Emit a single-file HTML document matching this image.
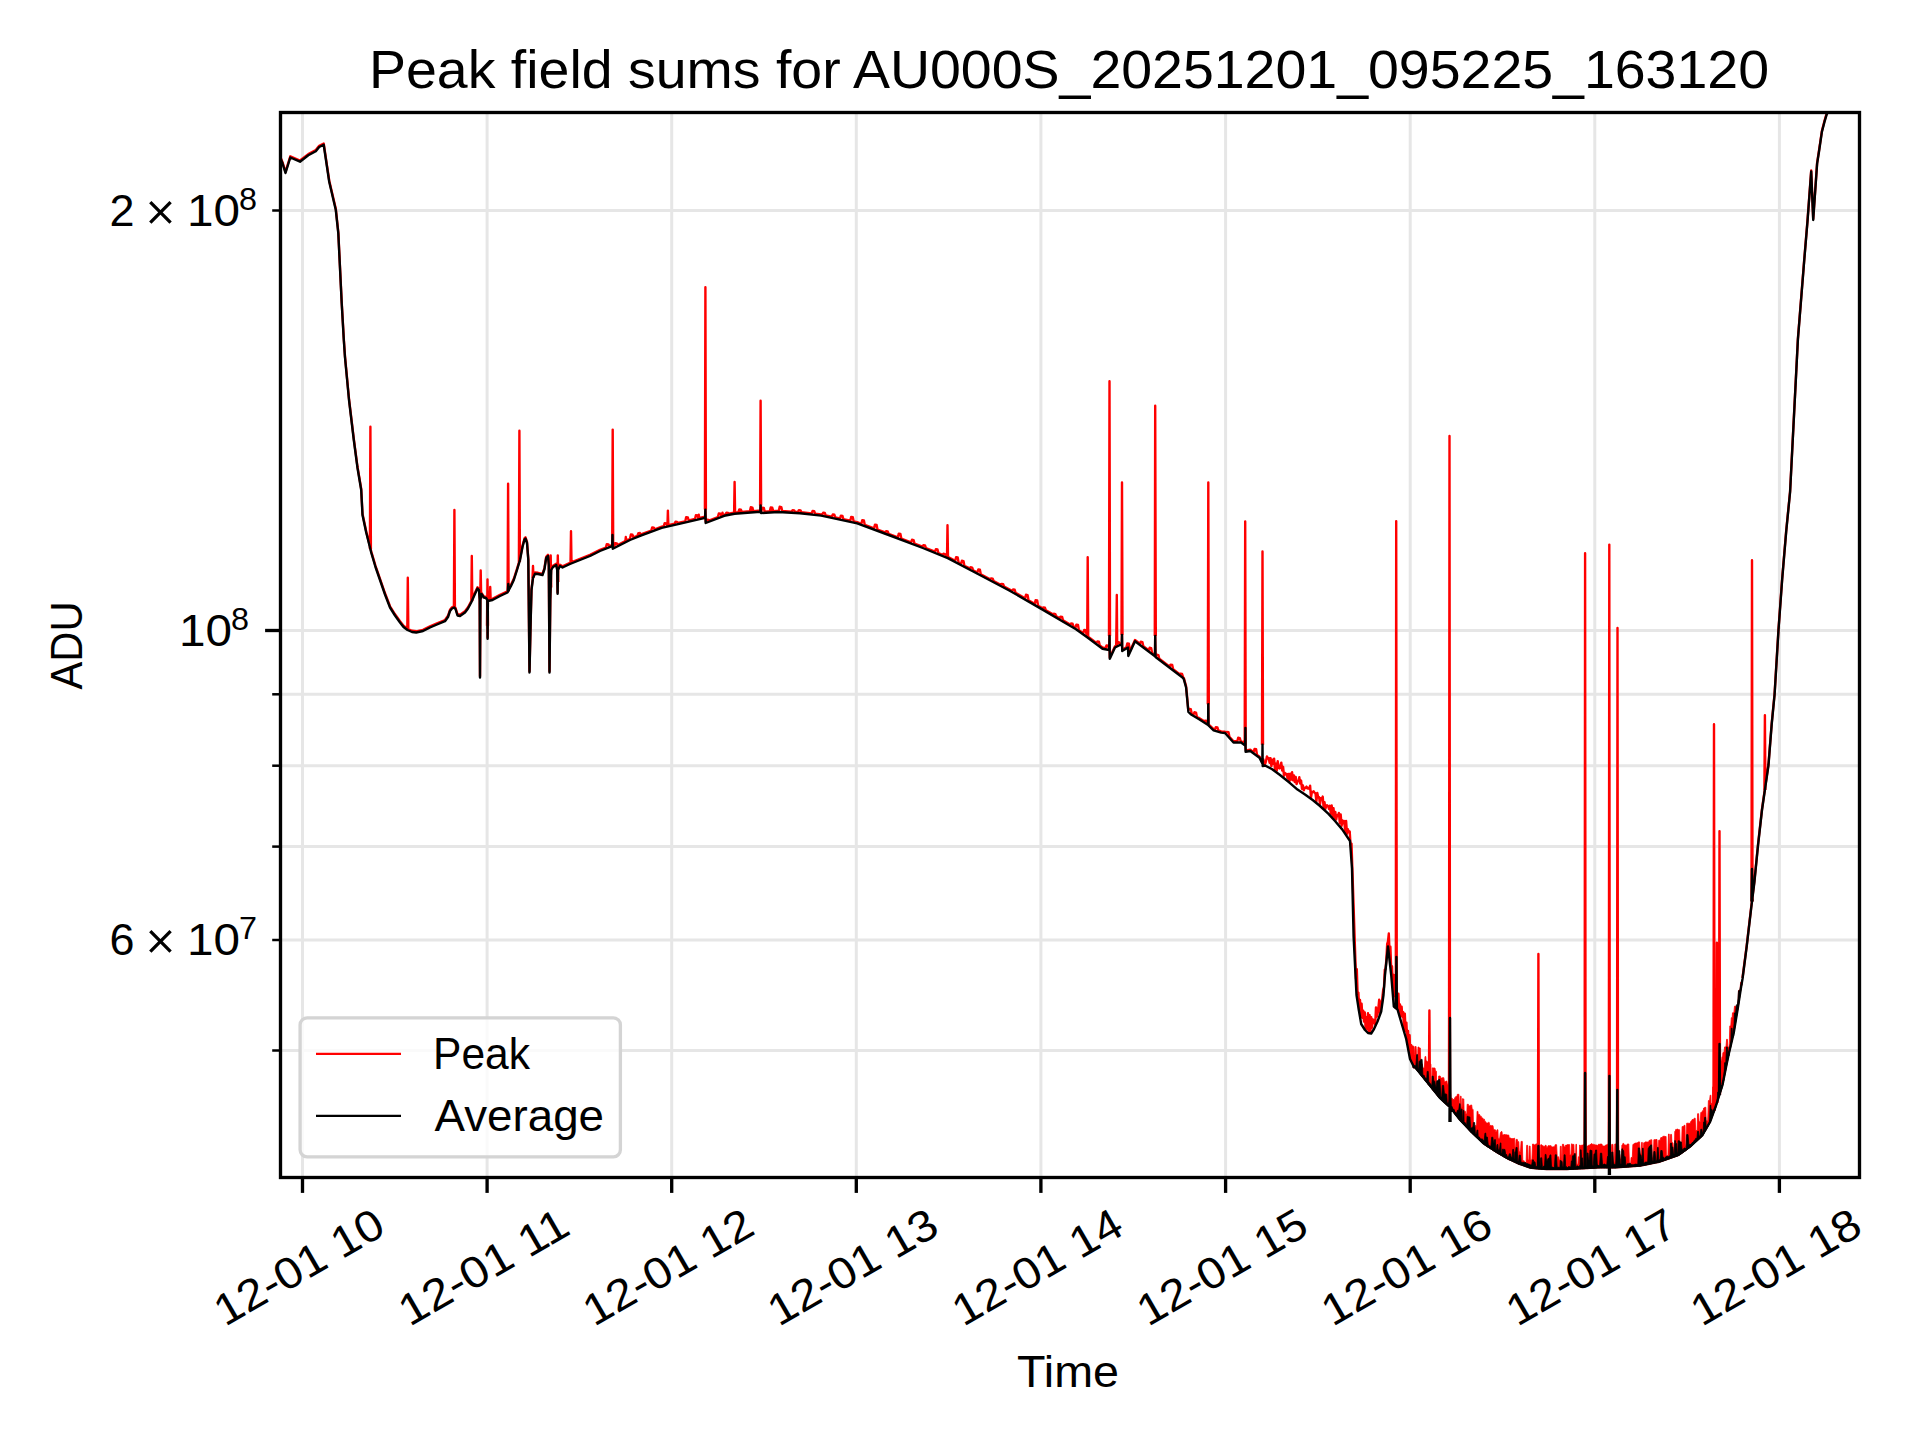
<!DOCTYPE html>
<html><head><meta charset="utf-8"><style>html,body{margin:0;padding:0;background:#fff;width:1920px;height:1440px;overflow:hidden}svg{display:block}</style></head>
<body><svg width="1920" height="1440" viewBox="0 0 1920 1440"><defs><clipPath id="ax"><rect x="280.5" y="112.5" width="1579.0" height="1065.0"/></clipPath></defs><rect x="0" y="0" width="1920" height="1440" fill="#fff"/><line x1="302.5" y1="112.5" x2="302.5" y2="1177.5" stroke="#e6e6e6" stroke-width="3.0"/><line x1="487.1" y1="112.5" x2="487.1" y2="1177.5" stroke="#e6e6e6" stroke-width="3.0"/><line x1="671.7" y1="112.5" x2="671.7" y2="1177.5" stroke="#e6e6e6" stroke-width="3.0"/><line x1="856.3" y1="112.5" x2="856.3" y2="1177.5" stroke="#e6e6e6" stroke-width="3.0"/><line x1="1040.9" y1="112.5" x2="1040.9" y2="1177.5" stroke="#e6e6e6" stroke-width="3.0"/><line x1="1225.6" y1="112.5" x2="1225.6" y2="1177.5" stroke="#e6e6e6" stroke-width="3.0"/><line x1="1410.2" y1="112.5" x2="1410.2" y2="1177.5" stroke="#e6e6e6" stroke-width="3.0"/><line x1="1594.8" y1="112.5" x2="1594.8" y2="1177.5" stroke="#e6e6e6" stroke-width="3.0"/><line x1="1779.4" y1="112.5" x2="1779.4" y2="1177.5" stroke="#e6e6e6" stroke-width="3.0"/><line x1="280.5" y1="630.5" x2="1859.5" y2="630.5" stroke="#e6e6e6" stroke-width="3.0"/><line x1="280.5" y1="1050.5" x2="1859.5" y2="1050.5" stroke="#e6e6e6" stroke-width="3.0"/><line x1="280.5" y1="940.0" x2="1859.5" y2="940.0" stroke="#e6e6e6" stroke-width="3.0"/><line x1="280.5" y1="846.6" x2="1859.5" y2="846.6" stroke="#e6e6e6" stroke-width="3.0"/><line x1="280.5" y1="765.7" x2="1859.5" y2="765.7" stroke="#e6e6e6" stroke-width="3.0"/><line x1="280.5" y1="694.3" x2="1859.5" y2="694.3" stroke="#e6e6e6" stroke-width="3.0"/><line x1="280.5" y1="210.5" x2="1859.5" y2="210.5" stroke="#e6e6e6" stroke-width="3.0"/><g clip-path="url(#ax)" fill="none" stroke-linejoin="round" stroke-linecap="butt"><path d="M280.8,158.0 L282.5,162.1 L285.5,171.8 L290.3,156.3 L300.0,160.5 L308.3,154.1 L315.8,150.1 L319.2,145.8 L323.7,143.5 L329.2,180.5 L335.8,208.8 L338.3,232.1 L341.7,302.1 L343.8,338.8 L345.0,356.3 L349.0,398.8 L353.8,438.8 L357.5,466.8 L361.2,488.8 L362.5,513.8 L366.2,531.3 L371.2,551.3 L375.5,565.8 L380.0,578.8 L385.0,593.3 L390.0,606.3 L395.0,614.3 L400.0,621.3 L403.5,625.8 L407.5,628.8 L412.0,630.8 L416.2,631.3 L423.0,629.8 L430.0,626.3 L437.0,623.3 L445.0,620.0 L448.0,615.8 L450.0,609.8 L452.0,607.3 L454.2,606.3 L455.5,607.8 L457.5,614.3 L460.0,614.8 L465.0,611.3 L468.0,607.3 L471.2,601.3 L474.5,593.8 L477.5,587.3 L479.0,588.8 L479.7,598.8 L480.0,676.3 L480.4,598.8 L481.5,592.8 L483.8,596.3 L486.0,596.8 L487.3,598.8 L487.6,637.5 L487.9,599.8 L492.5,598.8 L500.0,594.8 L507.5,591.3 L511.0,584.8 L513.8,578.8 L517.0,568.8 L520.0,558.8 L522.5,545.8 L524.5,538.3 L525.5,537.3 L527.0,541.8 L528.3,558.8 L529.5,671.3 L530.7,618.8 L531.5,588.8 L533.0,576.8 L535.0,572.5 L538.0,572.8 L542.5,573.8 L544.5,567.8 L546.2,556.8 L548.0,554.8 L548.8,563.8 L549.5,671.3 L550.3,598.8 L551.2,568.8 L553.0,565.8 L556.2,563.8 L557.2,568.8 L557.6,592.5 L558.0,568.8 L560.0,564.8 L562.5,566.3 L570.0,562.8 L580.0,558.8 L590.0,554.8 L600.0,549.8 L605.9,547.5 L606.8,544.1 L608.4,544.4 L609.3,546.2 L612.2,545.0 L612.5,533.8 L612.8,547.5 L614.3,546.8 L615.2,543.1 L616.8,543.4 L617.7,545.1 L624.9,541.4 L625.8,539.3 L627.4,539.6 L628.3,539.7 L630.0,538.8 L630.0,538.8 L630.9,534.5 L632.5,534.8 L633.4,537.4 L637.4,535.8 L638.3,533.3 L639.9,533.6 L640.8,534.4 L640.8,534.4 L651.3,530.5 L652.2,527.4 L653.8,527.7 L654.7,529.3 L661.7,526.7 L663.8,526.2 L664.7,523.2 L666.3,523.5 L667.2,525.4 L674.6,523.7 L675.5,521.7 L677.1,522.0 L678.0,522.9 L682.5,521.9 L685.3,521.3 L686.2,517.1 L687.8,517.4 L688.7,520.5 L695.0,519.0 L695.9,515.2 L697.5,515.5 L698.4,518.2 L705.1,516.7 L705.4,508.4 L705.7,521.8 L706.1,521.7 L707.0,519.7 L708.6,520.0 L709.5,520.3 L717.9,517.1 L718.8,513.5 L720.4,513.8 L721.3,515.7 L724.2,514.6 L725.6,514.3 L726.5,512.7 L728.1,513.0 L729.0,513.7 L734.6,512.5 L738.4,512.2 L739.3,509.4 L740.9,509.7 L741.8,512.0 L749.9,511.3 L750.8,507.3 L752.4,507.6 L753.3,511.1 L760.3,510.5 L760.6,504.2 L760.9,511.8 L761.3,511.8 L762.2,507.6 L763.8,507.9 L764.7,511.6 L769.8,511.3 L770.7,507.5 L772.3,507.8 L773.2,511.1 L778.3,510.8 L778.8,510.8 L779.7,506.8 L781.3,507.1 L782.2,511.0 L791.7,511.6 L792.6,510.1 L794.2,510.4 L795.1,511.8 L798.0,512.0 L798.9,510.1 L800.5,510.4 L801.4,512.2 L811.7,513.4 L812.6,510.9 L814.2,511.2 L815.1,513.7 L821.2,514.4 L822.3,514.6 L823.2,512.7 L824.8,513.0 L825.7,515.4 L831.9,516.7 L832.8,514.5 L834.4,514.8 L835.3,517.4 L840.0,518.5 L840.9,515.7 L842.5,516.0 L843.4,519.2 L850.3,520.7 L851.2,516.9 L852.8,517.2 L853.7,521.4 L857.2,522.2 L861.4,523.8 L862.3,520.1 L863.9,520.4 L864.8,525.0 L874.1,528.4 L875.0,524.6 L876.6,524.9 L877.5,529.7 L885.2,532.5 L886.1,531.2 L887.7,531.5 L888.6,533.8 L890.0,534.3 L897.9,537.3 L898.8,533.6 L900.4,533.9 L901.3,538.6 L911.1,542.3 L912.0,539.8 L913.6,540.1 L914.5,543.6 L922.5,546.7 L923.4,545.2 L925.0,545.5 L925.9,548.0 L935.0,551.7 L935.9,549.2 L937.5,549.5 L938.4,553.1 L942.5,554.8 L943.4,553.8 L945.0,554.1 L945.9,556.1 L947.8,556.9 L955.2,560.8 L956.1,557.2 L957.7,557.5 L958.6,562.6 L961.0,563.9 L961.9,560.8 L963.5,561.1 L964.4,565.7 L969.7,568.4 L970.6,567.3 L972.2,567.6 L973.1,570.2 L977.4,572.5 L978.3,569.5 L979.9,569.8 L980.8,574.3 L990.2,579.2 L991.1,578.4 L992.7,578.7 L993.6,581.0 L1000.7,584.8 L1001.6,584.0 L1003.2,584.3 L1004.1,586.6 L1008.8,589.0 L1012.2,591.0 L1013.1,589.4 L1014.7,589.7 L1015.6,592.9 L1025.1,598.4 L1026.0,594.8 L1027.6,595.1 L1028.5,600.3 L1034.7,603.9 L1035.6,600.2 L1037.2,600.5 L1038.1,605.8 L1040.0,606.9 L1042.5,608.3 L1043.4,607.5 L1045.0,607.8 L1045.9,610.3 L1052.9,614.4 L1053.8,613.8 L1055.4,614.1 L1056.3,616.4 L1059.6,618.4 L1060.5,616.6 L1062.1,616.9 L1063.0,620.4 L1070.1,624.6 L1071.0,623.5 L1072.6,623.8 L1073.5,626.6 L1075.5,627.7 L1076.4,624.6 L1078.0,624.9 L1078.9,630.1 L1083.3,633.3 L1084.2,630.0 L1085.8,630.3 L1086.7,635.8 L1087.5,636.3 L1096.4,643.0 L1097.3,641.5 L1098.9,641.8 L1099.8,645.5 L1102.5,647.5 L1105.6,648.1 L1106.5,645.5 L1108.1,645.8 L1109.0,648.8 L1109.2,648.8 L1109.5,634.8 L1109.8,657.5 L1115.0,646.3 L1116.4,645.6 L1117.3,641.9 L1118.9,642.2 L1119.8,643.9 L1120.0,643.8 L1121.8,643.8 L1122.0,633.8 L1122.2,649.8 L1126.4,647.3 L1127.3,643.4 L1128.9,643.7 L1129.8,651.5 L1135.0,640.0 L1139.9,643.7 L1140.8,641.8 L1142.4,642.1 L1143.3,646.2 L1148.7,650.3 L1149.6,647.8 L1151.2,648.1 L1152.1,652.9 L1155.0,655.0 L1155.2,634.8 L1155.5,655.8 L1155.9,656.1 L1156.8,654.8 L1158.4,655.1 L1159.3,658.7 L1169.7,666.6 L1170.6,664.6 L1172.2,664.9 L1173.1,669.1 L1179.6,674.1 L1180.5,673.7 L1182.1,674.0 L1183.0,676.9 L1183.8,677.9 L1186.1,686.3 L1188.3,710.2 L1189.2,708.9 L1190.8,709.2 L1191.7,713.6 L1193.5,714.7 L1194.4,712.3 L1196.0,712.6 L1196.9,716.8 L1198.3,717.6 L1204.2,721.3 L1205.1,720.6 L1206.7,720.9 L1207.6,723.5 L1208.1,723.8 L1208.3,703.1 L1208.5,724.3 L1213.6,729.1 L1214.9,729.5 L1215.8,727.1 L1217.4,727.4 L1218.3,730.5 L1221.2,731.4 L1225.0,731.8 L1226.0,732.9 L1226.9,731.9 L1228.5,732.2 L1229.4,736.7 L1233.5,741.3 L1237.3,741.3 L1238.2,737.8 L1239.8,738.1 L1240.7,741.3 L1241.1,741.3 L1242.5,742.4 L1243.4,741.8 L1245.0,742.1 L1245.9,750.5 L1250.3,749.8 L1253.6,752.3 L1254.5,749.0 L1256.1,749.3 L1257.0,754.8 L1259.5,756.6 L1260.9,759.4 L1261.8,759.2 L1263.4,759.5 L1264.3,764.5 L1265.0,764.3 L1266.0,761.3 L1266.9,756.4 L1267.8,758.5 L1268.7,758.1 L1269.6,762.7 L1270.5,758.1 L1271.4,766.1 L1272.3,759.6 L1273.2,763.8 L1274.1,758.6 L1275.0,769.3 L1275.9,763.7 L1276.8,770.7 L1277.7,761.1 L1278.6,767.4 L1279.5,768.4 L1280.4,766.5 L1281.3,762.6 L1282.2,770.5 L1283.1,766.8 L1284.0,775.8 L1284.9,772.9 L1285.8,774.3 L1286.7,774.0 L1287.6,778.4 L1288.5,774.0 L1289.4,781.1 L1290.3,773.7 L1291.2,779.5 L1292.1,772.3 L1293.0,780.4 L1293.9,775.5 L1294.8,782.1 L1295.7,776.9 L1296.6,784.0 L1297.5,781.4 L1298.4,781.2 L1299.3,777.2 L1300.2,783.6 L1301.1,780.6 L1302.0,788.9 L1302.9,785.5 L1303.8,790.3 L1304.7,788.0 L1305.6,787.8 L1306.5,786.6 L1307.4,788.4 L1308.3,788.0 L1309.2,788.9 L1310.1,785.7 L1311.0,797.6 L1311.9,792.0 L1312.8,791.9 L1313.7,791.3 L1314.6,792.8 L1315.5,793.3 L1316.4,801.3 L1317.3,793.0 L1318.2,797.3 L1319.1,797.2 L1320.0,804.1 L1320.9,798.2 L1321.8,799.0 L1322.7,796.6 L1323.6,807.2 L1324.5,802.2 L1325.4,809.0 L1326.3,805.4 L1327.2,805.3 L1328.1,806.1 L1329.0,808.9 L1329.9,805.8 L1330.8,813.7 L1331.7,805.5 L1332.6,816.2 L1333.5,808.2 L1334.4,818.2 L1335.3,811.9 L1336.2,819.5 L1337.1,815.1 L1338.0,815.7 L1338.9,813.0 L1339.8,823.0 L1340.7,814.5 L1341.6,825.9 L1342.5,820.4 L1343.4,823.3 L1344.3,821.0 L1345.2,831.9 L1346.1,820.9 L1347.0,833.7 L1347.9,829.3 L1348.8,832.0 L1349.7,831.4 L1350.6,845.8 L1351.5,843.5 L1356.0,979.0 L1356.8,969.1 L1357.6,994.5 L1358.4,992.6 L1359.2,1011.2 L1360.0,1000.0 L1360.8,1017.5 L1361.6,1003.8 L1362.4,1017.7 L1363.2,1010.6 L1364.0,1021.6 L1364.8,1012.5 L1365.6,1027.9 L1366.4,1017.3 L1367.2,1029.4 L1368.0,1013.3 L1368.8,1031.3 L1369.6,1015.3 L1370.4,1031.4 L1371.2,1017.1 L1372.0,1027.7 L1372.8,1019.4 L1373.6,1020.0 L1374.4,1021.4 L1375.2,1024.6 L1376.0,1007.4 L1376.8,1016.7 L1377.6,1013.9 L1378.4,1008.0 L1379.2,999.7 L1380.0,1012.5 L1380.8,1001.8 L1381.6,1006.4 L1382.4,997.2 L1383.2,989.8 L1384.0,987.2 L1384.8,969.5 L1385.6,969.1 L1386.4,958.8 L1387.2,943.9 L1388.0,941.3 L1388.8,933.5 L1389.6,953.4 L1390.4,946.8 L1391.2,969.5 L1392.0,966.2 L1392.8,986.1 L1393.6,974.9 L1394.4,996.1 L1395.2,991.1 L1396.0,1003.5 L1396.8,995.9 L1397.6,1001.7 L1398.4,993.8 L1399.2,1012.9 L1400.0,1004.5 L1400.8,1015.9 L1401.6,1006.6 L1402.4,1016.9 L1403.2,1012.2 L1404.0,1030.0 L1404.8,1013.6 L1405.6,1031.3 L1406.4,1022.6 L1407.2,1040.6 L1408.0,1030.9 L1408.8,1047.5 L1409.6,1035.3 L1410.4,1057.6 L1411.2,1045.2 L1412.0,1060.1 L1412.8,1046.7 L1413.6,1064.7 L1414.4,1055.0 M1742.5,978.0 L1746.7,945.7 L1751.1,907.9 L1754.4,881.2 L1758.0,844.6 L1762.0,809.0 L1768.5,764.0 L1771.7,723.3 L1774.6,693.5 L1778.5,629.0 L1782.2,578.2 L1786.2,530.7 L1790.1,491.0 L1797.9,338.6 L1804.3,258.7 L1807.5,220.4 L1811.2,170.5 L1813.2,219.0 L1817.1,162.9 L1818.9,151.2 L1821.9,130.9 L1824.4,121.2 L1826.7,113.4 L1829.0,109.0 L1835.0,99.0 M550.2,587.4 L550.7,555.4 L551.2,587.4 M557.3,581.9 L557.8,555.4 L558.3,581.9 M532.5,578.0 L533.0,566.0 L533.5,578.0 M369.9,549.1 L370.4,426.7 L370.9,549.1 M407.3,630.1 L407.8,577.8 L408.3,630.1 M453.9,607.7 L454.4,510.0 L454.9,607.7 M471.3,601.2 L471.8,556.0 L472.3,601.2 M480.2,598.4 L480.7,570.5 L481.2,598.4 M487.0,625.8 L487.5,579.4 L488.0,625.8 M489.7,600.5 L490.2,587.0 L490.7,600.5 M507.6,591.4 L508.1,483.8 L508.6,591.4 M518.9,562.0 L519.4,430.8 L519.9,562.0 M570.5,563.6 L571.0,531.2 L571.5,563.6 M612.2,544.2 L612.7,429.6 L613.2,544.2 M625.3,542.1 L625.8,537.0 L626.3,542.1 M639.3,536.0 L639.8,533.0 L640.3,536.0 M667.4,526.5 L667.9,510.6 L668.4,526.5 M698.2,519.4 L698.8,514.8 L699.2,519.4 M704.9,509.6 L705.4,287.3 L705.9,509.6 M722.0,516.5 L722.5,512.7 L723.0,516.5 M734.1,513.8 L734.6,482.0 L735.1,513.8 M740.3,513.3 L740.8,509.6 L741.3,513.3 M750.3,512.5 L750.8,509.6 L751.3,512.5 M760.1,505.4 L760.6,400.8 L761.1,505.4 M770.5,512.4 L771.0,510.0 L771.5,512.4 M947.0,558.0 L947.5,525.3 L948.0,558.0 M1087.2,637.7 L1087.7,557.3 L1088.2,637.7 M1109.0,636.0 L1109.5,381.2 L1110.0,636.0 M1116.2,646.6 L1116.8,595.0 L1117.2,646.6 M1121.5,635.0 L1122.0,482.5 L1122.5,635.0 M1154.8,636.0 L1155.2,405.8 L1155.8,636.0 M1207.8,704.3 L1208.3,482.5 L1208.8,704.3 M1244.7,745.6 L1245.2,521.5 L1245.7,745.6 M1262.0,744.8 L1262.5,551.5 L1263.0,744.8 M1395.8,1008.5 L1396.2,521.1 L1396.8,1008.5 M1428.9,1084.9 L1429.4,1010.5 L1429.9,1084.9 M1449.0,1106.5 L1449.5,435.9 L1450.0,1106.5 M1537.9,1168.1 L1538.4,954.0 L1538.9,1168.1 M1584.6,1167.8 L1585.1,553.3 L1585.6,1167.8 M1608.8,1167.1 L1609.3,544.6 L1609.8,1167.1 M1617.0,1166.9 L1617.5,628.0 L1618.0,1166.9 M1713.5,1111.1 L1714.0,724.3 L1714.5,1111.1 M1716.4,1102.9 L1716.9,942.7 L1717.4,1102.9 M1719.0,1094.4 L1719.5,831.1 L1720.0,1094.4 M1751.5,901.6 L1752.0,560.2 L1752.5,901.6 M1764.4,789.9 L1764.9,715.3 L1765.4,789.9" stroke="#ff0000" stroke-width="2.4"/><path d="M1413.0,1060.7 L1414.2,1060.7 L1414.8,1046.6 L1416.1,1046.6 L1416.7,1062.2 L1417.6,1062.2 L1418.0,1047.0 L1418.8,1047.0 L1419.1,1048.0 L1420.3,1048.0 L1420.8,1063.9 L1422.3,1063.9 L1422.9,1068.0 L1424.4,1068.0 L1425.0,1056.6 L1425.8,1056.6 L1426.1,1060.9 L1426.9,1060.9 L1427.2,1061.8 L1428.3,1061.8 L1428.8,1064.5 L1429.6,1064.5 L1429.9,1064.1 L1430.9,1064.1 L1431.3,1082.3 L1432.0,1082.3 L1432.2,1067.9 L1433.3,1067.9 L1433.8,1068.0 L1435.0,1068.0 L1435.5,1071.2 L1436.4,1071.2 L1436.8,1089.7 L1438.1,1089.7 L1438.7,1076.0 L1440.2,1076.0 L1440.8,1078.1 L1441.9,1078.1 L1442.4,1077.7 L1443.8,1077.7 L1444.4,1081.7 L1445.5,1081.7 L1445.9,1081.1 L1446.9,1081.1 L1447.3,1084.2 L1448.8,1084.2 L1449.5,1091.2 L1450.5,1091.2 L1451.0,1098.3 L1452.3,1098.3 L1452.9,1099.5 L1454.3,1099.5 L1454.9,1097.4 L1455.5,1097.4 L1455.7,1096.6 L1456.9,1096.6 L1457.4,1094.3 L1458.9,1094.3 L1459.6,1109.5 L1460.1,1109.5 L1460.4,1096.2 L1461.1,1096.2 L1461.4,1107.3 L1462.1,1107.3 L1462.4,1098.7 L1463.0,1098.7 L1463.3,1098.9 L1463.8,1098.9 L1464.1,1111.2 L1465.3,1111.2 L1465.9,1113.9 L1466.8,1113.9 L1467.2,1104.3 L1468.3,1104.3 L1468.8,1105.9 L1470.1,1105.9 L1470.6,1105.0 L1471.7,1105.0 L1472.2,1109.4 L1473.1,1109.4 L1473.5,1128.6 L1474.8,1128.6 L1475.4,1125.5 L1476.6,1125.5 L1477.1,1111.4 L1477.9,1111.4 L1478.2,1114.5 L1479.6,1114.5 L1480.2,1116.2 L1481.2,1116.2 L1481.6,1117.9 L1482.7,1117.9 L1483.1,1119.2 L1484.4,1119.2 L1485.0,1121.7 L1485.8,1121.7 L1486.1,1123.0 L1487.6,1123.0 L1488.3,1122.4 L1489.2,1122.4 L1489.6,1125.4 L1491.1,1125.4 L1491.7,1125.7 L1493.0,1125.7 L1493.5,1129.6 L1494.3,1129.6 L1494.7,1129.8 L1495.4,1129.8 L1495.7,1131.4 L1496.6,1131.4 L1497.0,1129.8 L1497.9,1129.8 L1498.2,1138.4 L1499.7,1138.4 L1500.4,1132.6 L1501.0,1132.6 L1501.2,1131.6 L1502.0,1131.6 L1502.3,1134.9 L1503.3,1134.9 L1503.8,1134.6 L1505.1,1134.6 L1505.7,1134.8 L1506.8,1134.8 L1507.3,1135.0 L1508.7,1135.0 L1509.3,1138.1 L1510.6,1138.1 L1511.2,1138.6 L1512.3,1138.6 L1512.8,1138.5 L1513.7,1138.5 L1514.0,1138.2 L1514.6,1138.2 L1514.9,1147.3 L1515.7,1147.3 L1516.1,1139.4 L1517.3,1139.4 L1517.8,1141.7 L1518.8,1141.7 L1519.2,1151.4 L1520.5,1151.4 L1521.1,1141.4 L1522.3,1141.4 L1522.8,1160.8 L1524.2,1160.8 L1524.8,1162.9 L1526.1,1162.9 L1526.7,1145.3 L1527.6,1145.3 L1528.0,1159.9 L1528.9,1159.9 L1529.3,1146.1 L1530.1,1146.1 L1530.4,1159.8 L1531.9,1159.8 L1532.6,1144.0 L1533.5,1144.0 L1533.9,1144.9 L1535.2,1144.9 L1535.8,1143.9 L1536.9,1143.9 L1537.4,1159.9 L1538.9,1159.9 L1539.5,1158.6 L1540.3,1158.6 L1540.7,1144.8 L1541.8,1144.8 L1542.4,1145.7 L1543.2,1145.7 L1543.5,1146.5 L1544.7,1146.5 L1545.2,1145.3 L1546.1,1145.3 L1546.5,1147.2 L1547.6,1147.2 L1548.1,1145.7 L1549.4,1145.7 L1550.0,1145.7 L1551.1,1145.7 L1551.5,1146.9 L1552.8,1146.9 L1553.3,1146.8 L1554.6,1146.8 L1555.2,1144.7 L1556.6,1144.7 L1557.2,1156.8 L1558.6,1156.8 L1559.2,1160.1 L1560.0,1160.1 L1560.3,1146.3 L1561.2,1146.3 L1561.6,1163.0 L1562.2,1163.0 L1562.4,1144.3 L1563.6,1144.3 L1564.2,1147.0 L1565.2,1147.0 L1565.7,1145.1 L1566.6,1145.1 L1567.0,1144.7 L1568.0,1144.7 L1568.5,1144.6 L1569.5,1144.6 L1569.9,1154.9 L1571.0,1154.9 L1571.4,1143.9 L1572.2,1143.9 L1572.5,1144.4 L1573.9,1144.4 L1574.5,1163.5 L1575.5,1163.5 L1575.9,1144.3 L1576.5,1144.3 L1576.8,1164.3 L1577.9,1164.3 L1578.4,1156.8 L1579.3,1156.8 L1579.6,1145.0 L1580.2,1145.0 L1580.5,1146.3 L1581.2,1146.3 L1581.5,1145.1 L1582.8,1145.1 L1583.3,1144.7 L1584.5,1144.7 L1585.0,1144.5 L1585.7,1144.5 L1586.0,1153.6 L1586.8,1153.6 L1587.2,1146.1 L1588.1,1146.1 L1588.5,1145.2 L1589.6,1145.2 L1590.0,1144.5 L1590.9,1144.5 L1591.2,1143.7 L1592.0,1143.7 L1592.3,1144.3 L1593.5,1144.3 L1594.0,1144.7 L1595.1,1144.7 L1595.6,1145.0 L1596.8,1145.0 L1597.3,1145.6 L1598.0,1145.6 L1598.3,1144.3 L1599.8,1144.3 L1600.4,1144.1 L1601.9,1144.1 L1602.5,1145.9 L1603.4,1145.9 L1603.7,1146.1 L1605.1,1146.1 L1605.7,1144.9 L1607.0,1144.9 L1607.5,1144.2 L1608.7,1144.2 L1609.3,1152.9 L1609.8,1152.9 L1610.1,1153.2 L1611.2,1153.2 L1611.7,1144.4 L1613.0,1144.4 L1613.5,1161.6 L1614.4,1161.6 L1614.8,1144.0 L1616.0,1144.0 L1616.5,1164.9 L1617.4,1164.9 L1617.8,1145.3 L1618.6,1145.3 L1619.0,1154.3 L1619.9,1154.3 L1620.3,1159.1 L1621.4,1159.1 L1621.9,1145.1 L1622.6,1145.1 L1622.9,1143.4 L1623.7,1143.4 L1624.1,1144.9 L1625.3,1144.9 L1625.9,1145.3 L1626.9,1145.3 L1627.3,1144.0 L1628.8,1144.0 L1629.4,1164.6 L1630.6,1164.6 L1631.1,1157.5 L1632.3,1157.5 L1632.9,1144.5 L1633.5,1144.5 L1633.8,1143.8 L1634.5,1143.8 L1634.8,1143.1 L1636.3,1143.1 L1637.0,1142.8 L1637.9,1142.8 L1638.3,1141.9 L1639.6,1141.9 L1640.2,1154.0 L1641.2,1154.0 L1641.6,1142.4 L1642.3,1142.4 L1642.5,1154.0 L1643.3,1154.0 L1643.7,1142.8 L1644.7,1142.8 L1645.1,1141.9 L1646.4,1141.9 L1647.0,1142.0 L1647.8,1142.0 L1648.2,1142.0 L1648.8,1142.0 L1649.1,1140.4 L1650.2,1140.4 L1650.6,1139.8 L1651.8,1139.8 L1652.3,1157.4 L1653.4,1157.4 L1653.9,1139.7 L1655.2,1139.7 L1655.8,1139.5 L1657.0,1139.5 L1657.5,1151.9 L1658.4,1151.9 L1658.7,1140.2 L1660.2,1140.2 L1660.8,1137.6 L1662.3,1137.6 L1662.9,1136.3 L1663.9,1136.3 L1664.3,1136.3 L1665.0,1136.3 L1665.3,1136.5 L1666.1,1136.5 L1666.4,1155.5 L1667.9,1155.5 L1668.5,1134.0 L1669.2,1134.0 L1669.5,1144.0 L1670.3,1144.0 L1670.6,1134.4 L1671.5,1134.4 L1671.9,1142.8 L1673.0,1142.8 L1673.5,1149.6 L1674.4,1149.6 L1674.8,1131.3 L1675.4,1131.3 L1675.7,1129.4 L1676.8,1129.4 L1677.2,1129.0 L1677.9,1129.0 L1678.2,1129.7 L1679.6,1129.7 L1680.2,1147.5 L1681.6,1147.5 L1682.1,1126.6 L1683.5,1126.6 L1684.1,1125.3 L1685.0,1125.3 L1685.4,1145.2 L1686.3,1145.2 L1686.7,1123.2 L1688.2,1123.2 L1688.8,1123.3 L1690.3,1123.3 L1691.0,1121.0 L1691.7,1121.0 L1692.1,1119.6 L1693.6,1119.6 L1694.2,1118.2 L1695.2,1118.2 L1695.7,1130.5 L1697.1,1130.5 L1697.6,1113.7 L1698.6,1113.7 L1699.0,1121.7 L1700.3,1121.7 L1700.8,1112.4 L1702.0,1112.4 L1702.4,1110.8 L1703.3,1110.8 L1703.6,1108.1 L1704.4,1108.1 L1704.7,1107.3 L1705.8,1107.3 L1706.2,1120.7 L1707.7,1120.7 L1708.4,1100.6 L1709.6,1100.6 L1710.2,1095.2 L1710.8,1095.2 L1711.0,1103.5 L1712.2,1103.5 L1712.7,1086.9 L1713.6,1086.9 L1714.0,1083.3 L1715.3,1083.3 L1715.8,1075.9 L1717.1,1075.9 L1717.7,1070.9 L1718.5,1070.9 L1718.8,1067.1 L1720.0,1067.1 L1720.5,1060.4 L1721.6,1060.4 L1722.0,1056.7 L1722.6,1056.7 L1722.9,1052.6 L1724.0,1052.6 L1724.6,1046.9 L1726.0,1046.9 L1726.6,1039.3 L1727.4,1039.3 L1727.8,1047.1 L1729.2,1047.1 L1729.8,1025.9 L1730.8,1025.9 L1731.3,1017.7 L1732.2,1017.7 L1732.5,1012.8 L1733.9,1012.8 L1734.5,1006.2 L1735.8,1006.2 L1736.4,1009.7 L1737.8,1009.7 L1738.5,990.4 L1740.0,990.4 L1740.6,982.3 L1741.2,982.3 L1741.5,983.8 L1742.3,983.8 L1741.5,986.1 L1740.6,991.2 L1738.5,1005.0 L1736.4,1017.4 L1734.5,1029.2 L1732.5,1038.6 L1731.3,1043.9 L1729.8,1050.5 L1727.8,1059.6 L1726.6,1065.7 L1724.6,1075.8 L1722.9,1084.2 L1722.0,1087.6 L1720.5,1092.3 L1718.8,1097.7 L1717.7,1101.4 L1715.8,1107.3 L1714.0,1112.1 L1712.7,1115.7 L1711.0,1120.2 L1710.2,1122.5 L1708.4,1125.8 L1706.2,1129.6 L1704.7,1132.1 L1703.6,1134.1 L1702.4,1136.1 L1700.8,1137.5 L1699.0,1139.2 L1697.6,1140.5 L1695.7,1142.3 L1694.2,1143.6 L1692.1,1145.6 L1691.0,1146.6 L1688.8,1148.3 L1686.7,1149.9 L1685.4,1150.9 L1684.1,1151.8 L1682.1,1153.2 L1680.2,1154.6 L1678.2,1155.8 L1677.2,1156.2 L1675.7,1156.7 L1674.8,1157.0 L1673.5,1157.5 L1671.9,1158.0 L1670.6,1158.5 L1669.5,1158.9 L1668.5,1159.2 L1666.4,1160.0 L1665.3,1160.4 L1664.3,1160.7 L1662.9,1161.2 L1660.8,1161.9 L1658.7,1162.6 L1657.5,1162.8 L1655.8,1163.1 L1653.9,1163.5 L1652.3,1163.8 L1650.6,1164.2 L1649.1,1164.5 L1648.2,1164.7 L1647.0,1164.9 L1645.1,1165.3 L1643.7,1165.6 L1642.5,1165.8 L1641.6,1166.0 L1640.2,1166.3 L1638.3,1166.4 L1637.0,1166.5 L1634.8,1166.7 L1633.8,1166.7 L1632.9,1166.8 L1631.1,1166.9 L1629.4,1167.1 L1627.3,1167.2 L1625.9,1167.3 L1624.1,1167.4 L1622.9,1167.5 L1621.9,1167.6 L1620.3,1167.7 L1619.0,1167.8 L1617.8,1167.9 L1616.5,1168.0 L1614.8,1168.1 L1613.5,1168.1 L1611.7,1168.1 L1610.1,1168.1 L1609.3,1168.1 L1607.5,1168.1 L1605.7,1168.0 L1603.7,1168.0 L1602.5,1168.0 L1600.4,1168.0 L1598.3,1168.1 L1597.3,1168.1 L1595.6,1168.2 L1594.0,1168.3 L1592.3,1168.4 L1591.2,1168.4 L1590.0,1168.5 L1588.5,1168.6 L1587.2,1168.7 L1586.0,1168.7 L1585.0,1168.8 L1583.3,1168.9 L1581.5,1168.9 L1580.5,1169.0 L1579.6,1169.0 L1578.4,1169.1 L1576.8,1169.2 L1575.9,1169.2 L1574.5,1169.3 L1572.5,1169.4 L1571.4,1169.5 L1569.9,1169.5 L1568.5,1169.6 L1567.0,1169.7 L1565.7,1169.7 L1564.2,1169.7 L1562.4,1169.7 L1561.6,1169.7 L1560.3,1169.7 L1559.2,1169.7 L1557.2,1169.7 L1555.2,1169.7 L1553.3,1169.7 L1551.5,1169.7 L1550.0,1169.7 L1548.1,1169.7 L1546.5,1169.7 L1545.2,1169.6 L1543.5,1169.5 L1542.4,1169.4 L1540.7,1169.3 L1539.5,1169.2 L1537.4,1169.0 L1535.8,1168.9 L1533.9,1168.7 L1532.6,1168.6 L1530.4,1168.3 L1529.3,1168.0 L1528.0,1167.5 L1526.7,1167.1 L1524.8,1166.4 L1522.8,1165.7 L1521.1,1165.1 L1519.2,1164.5 L1517.8,1163.9 L1516.1,1163.1 L1514.9,1162.5 L1514.0,1162.1 L1512.8,1161.6 L1511.2,1160.8 L1509.3,1160.0 L1507.3,1159.0 L1505.7,1158.1 L1503.8,1157.0 L1502.3,1156.1 L1501.2,1155.4 L1500.4,1155.0 L1498.2,1153.7 L1497.0,1153.0 L1495.7,1152.2 L1494.7,1151.5 L1493.5,1150.8 L1491.7,1149.6 L1489.6,1148.2 L1488.3,1147.4 L1486.1,1146.0 L1485.0,1145.2 L1483.1,1143.8 L1481.6,1142.4 L1480.2,1141.0 L1478.2,1139.2 L1477.1,1138.1 L1475.4,1136.5 L1473.5,1134.7 L1472.2,1133.5 L1470.6,1131.9 L1468.8,1129.9 L1467.2,1128.3 L1465.9,1126.9 L1464.1,1125.0 L1463.3,1124.1 L1462.4,1123.2 L1461.4,1122.1 L1460.4,1121.1 L1459.6,1120.1 L1457.4,1117.4 L1455.7,1115.3 L1454.9,1114.2 L1452.9,1111.7 L1451.0,1109.3 L1449.5,1107.5 L1447.3,1105.5 L1445.9,1104.3 L1444.4,1102.9 L1442.4,1101.1 L1440.8,1099.6 L1438.7,1097.4 L1436.8,1095.0 L1435.5,1093.4 L1433.8,1091.3 L1432.2,1089.4 L1431.3,1088.2 L1429.9,1086.5 L1428.8,1085.1 L1427.2,1083.1 L1426.1,1081.8 L1425.0,1080.4 L1422.9,1077.8 L1420.8,1075.2 L1419.1,1073.1 L1418.0,1071.7 L1416.7,1070.1 L1414.8,1068.0 L1413.0,1067.9 Z" fill="#ff0000" stroke="#ff0000" stroke-width="0.8"/><path d="M1413.0,1065.6 L1414.1,1065.6 L1414.8,1065.7 L1415.9,1065.7 L1416.7,1054.6 L1417.5,1054.6 L1418.0,1068.3 L1418.7,1068.3 L1419.1,1061.2 L1420.1,1061.2 L1420.8,1059.4 L1422.1,1059.4 L1422.9,1075.3 L1424.2,1075.3 L1425.0,1078.1 L1425.7,1078.1 L1426.1,1078.3 L1426.8,1078.3 L1427.2,1071.4 L1428.2,1071.4 L1428.8,1082.4 L1429.5,1082.4 L1429.9,1083.8 L1430.7,1083.8 L1431.3,1085.3 L1431.9,1085.3 L1432.2,1076.1 L1433.2,1076.1 L1433.8,1081.2 L1434.8,1081.2 L1435.5,1086.2 L1436.3,1086.2 L1436.8,1080.8 L1437.9,1080.8 L1438.7,1079.5 L1439.9,1079.5 L1440.8,1096.9 L1441.7,1096.9 L1442.4,1085.4 L1443.6,1085.4 L1444.4,1093.8 L1445.3,1093.8 L1445.9,1094.2 L1446.7,1094.2 L1447.3,1103.2 L1448.6,1103.2 L1449.5,1099.3 L1450.4,1099.3 L1451.0,1106.5 L1452.1,1106.5 L1452.9,1109.3 L1454.1,1109.3 L1454.9,1112.4 L1455.4,1112.4 L1455.7,1112.9 L1456.7,1112.9 L1457.4,1110.3 L1458.7,1110.3 L1459.6,1103.7 L1460.1,1103.7 L1460.4,1110.3 L1461.0,1110.3 L1461.4,1109.0 L1462.0,1109.0 L1462.4,1119.7 L1462.9,1119.7 L1463.3,1110.4 L1463.8,1110.4 L1464.1,1122.5 L1465.2,1122.5 L1465.9,1124.4 L1466.7,1124.4 L1467.2,1116.3 L1468.2,1116.3 L1468.8,1116.9 L1469.9,1116.9 L1470.6,1127.9 L1471.6,1127.9 L1472.2,1127.2 L1473.0,1127.2 L1473.5,1122.5 L1474.6,1122.5 L1475.4,1133.9 L1476.4,1133.9 L1477.1,1130.0 L1477.8,1130.0 L1478.2,1136.9 L1479.4,1136.9 L1480.2,1139.0 L1481.0,1139.0 L1481.6,1138.9 L1482.5,1138.9 L1483.1,1140.5 L1484.2,1140.5 L1485.0,1133.1 L1485.7,1133.1 L1486.1,1137.1 L1487.4,1137.1 L1488.3,1145.4 L1489.1,1145.4 L1489.6,1146.2 L1490.9,1146.2 L1491.7,1137.2 L1492.8,1137.2 L1493.5,1142.5 L1494.2,1142.5 L1494.7,1139.6 L1495.3,1139.6 L1495.7,1149.4 L1496.5,1149.4 L1497.0,1144.5 L1497.8,1144.5 L1498.2,1149.8 L1499.5,1149.8 L1500.4,1142.9 L1500.9,1142.9 L1501.2,1153.4 L1501.9,1153.4 L1502.3,1149.2 L1503.2,1149.2 L1503.8,1149.4 L1504.9,1149.4 L1505.7,1154.5 L1506.7,1154.5 L1507.3,1157.1 L1508.5,1157.1 L1509.3,1153.8 L1510.4,1153.8 L1511.2,1157.3 L1512.2,1157.3 L1512.8,1149.3 L1513.5,1149.3 L1514.0,1158.8 L1514.6,1158.8 L1514.9,1151.7 L1515.6,1151.7 L1516.1,1147.5 L1517.1,1147.5 L1517.8,1160.9 L1518.6,1160.9 L1519.2,1155.2 L1520.4,1155.2 L1521.1,1162.3 L1522.1,1162.3 L1522.8,1162.4 L1524.0,1162.4 L1524.8,1162.6 L1525.9,1162.6 L1526.7,1163.5 L1527.5,1163.5 L1528.0,1164.1 L1528.8,1164.1 L1529.3,1164.3 L1529.9,1164.3 L1530.4,1164.9 L1531.7,1164.9 L1532.6,1159.8 L1533.3,1159.8 L1533.9,1161.9 L1535.0,1161.9 L1535.8,1166.6 L1536.8,1166.6 L1537.4,1166.1 L1538.7,1166.1 L1539.5,1165.7 L1540.2,1165.7 L1540.7,1157.8 L1541.7,1157.8 L1542.4,1167.5 L1543.1,1167.5 L1543.5,1166.1 L1544.5,1166.1 L1545.2,1154.4 L1546.0,1154.4 L1546.5,1160.2 L1547.4,1160.2 L1548.1,1158.3 L1549.3,1158.3 L1550.0,1154.9 L1550.9,1154.9 L1551.5,1167.1 L1552.6,1167.1 L1553.3,1167.5 L1554.4,1167.5 L1555.2,1154.8 L1556.4,1154.8 L1557.2,1167.2 L1558.4,1167.2 L1559.2,1167.4 L1559.9,1167.4 L1560.3,1160.6 L1561.1,1160.6 L1561.6,1161.6 L1562.1,1161.6 L1562.4,1166.6 L1563.5,1166.6 L1564.2,1154.8 L1565.1,1154.8 L1565.7,1166.5 L1566.4,1166.5 L1567.0,1167.8 L1567.9,1167.8 L1568.5,1166.5 L1569.4,1166.5 L1569.9,1167.0 L1570.8,1167.0 L1571.4,1161.0 L1572.1,1161.0 L1572.5,1155.8 L1573.7,1155.8 L1574.5,1153.6 L1575.3,1153.6 L1575.9,1167.2 L1576.4,1167.2 L1576.8,1165.9 L1577.8,1165.9 L1578.4,1166.5 L1579.1,1166.5 L1579.6,1165.5 L1580.1,1165.5 L1580.5,1149.8 L1581.1,1149.8 L1581.5,1157.9 L1582.6,1157.9 L1583.3,1166.9 L1584.4,1166.9 L1585.0,1165.3 L1585.6,1165.3 L1586.0,1165.9 L1586.7,1165.9 L1587.2,1153.0 L1588.0,1153.0 L1588.5,1159.5 L1589.4,1159.5 L1590.0,1150.0 L1590.7,1150.0 L1591.2,1150.5 L1591.9,1150.5 L1592.3,1165.6 L1593.3,1165.6 L1594.0,1154.0 L1595.0,1154.0 L1595.6,1150.0 L1596.6,1150.0 L1597.3,1164.8 L1597.9,1164.8 L1598.3,1165.6 L1599.6,1165.6 L1600.4,1153.2 L1601.7,1153.2 L1602.5,1164.6 L1603.2,1164.6 L1603.7,1164.1 L1604.9,1164.1 L1605.7,1164.8 L1606.8,1164.8 L1607.5,1156.5 L1608.6,1156.5 L1609.3,1164.6 L1609.7,1164.6 L1610.1,1165.6 L1611.1,1165.6 L1611.7,1152.0 L1612.8,1152.0 L1613.5,1164.1 L1614.3,1164.1 L1614.8,1164.4 L1615.8,1164.4 L1616.5,1153.1 L1617.3,1153.1 L1617.8,1156.9 L1618.5,1156.9 L1619.0,1150.7 L1619.8,1150.7 L1620.3,1164.1 L1621.2,1164.1 L1621.9,1148.8 L1622.5,1148.8 L1622.9,1150.6 L1623.6,1150.6 L1624.1,1156.7 L1625.2,1156.7 L1625.9,1165.3 L1626.7,1165.3 L1627.3,1163.7 L1628.6,1163.7 L1629.4,1163.3 L1630.4,1163.3 L1631.1,1164.8 L1632.1,1164.8 L1632.9,1164.9 L1633.4,1164.9 L1633.8,1164.8 L1634.4,1164.8 L1634.8,1164.1 L1636.1,1164.1 L1637.0,1164.3 L1637.8,1164.3 L1638.3,1147.9 L1639.5,1147.9 L1640.2,1155.1 L1641.0,1155.1 L1641.6,1158.4 L1642.2,1158.4 L1642.5,1148.2 L1643.2,1148.2 L1643.7,1163.1 L1644.6,1163.1 L1645.1,1162.1 L1646.2,1162.1 L1647.0,1161.9 L1647.7,1161.9 L1648.2,1148.3 L1648.7,1148.3 L1649.1,1146.6 L1650.0,1146.6 L1650.6,1144.9 L1651.6,1144.9 L1652.3,1160.8 L1653.2,1160.8 L1653.9,1151.5 L1655.0,1151.5 L1655.8,1160.4 L1656.8,1160.4 L1657.5,1147.4 L1658.2,1147.4 L1658.7,1159.7 L1660.0,1159.7 L1660.8,1150.5 L1662.1,1150.5 L1662.9,1157.3 L1663.7,1157.3 L1664.3,1158.4 L1664.9,1158.4 L1665.3,1157.1 L1666.0,1157.1 L1666.4,1156.3 L1667.7,1156.3 L1668.5,1156.4 L1669.1,1156.4 L1669.5,1155.7 L1670.2,1155.7 L1670.6,1143.1 L1671.4,1143.1 L1671.9,1147.1 L1672.9,1147.1 L1673.5,1154.0 L1674.3,1154.0 L1674.8,1140.6 L1675.3,1140.6 L1675.7,1143.6 L1676.6,1143.6 L1677.2,1152.6 L1677.8,1152.6 L1678.2,1140.8 L1679.4,1140.8 L1680.2,1141.9 L1681.4,1141.9 L1682.1,1149.4 L1683.3,1149.4 L1684.1,1148.0 L1684.9,1148.0 L1685.4,1148.4 L1686.2,1148.4 L1686.7,1134.6 L1688.0,1134.6 L1688.8,1144.4 L1690.1,1144.4 L1691.0,1144.5 L1691.6,1144.5 L1692.1,1142.6 L1693.3,1142.6 L1694.2,1140.2 L1695.1,1140.2 L1695.7,1138.3 L1696.9,1138.3 L1697.6,1131.3 L1698.5,1131.3 L1699.0,1136.1 L1700.1,1136.1 L1700.8,1129.2 L1701.8,1129.2 L1702.4,1132.8 L1703.1,1132.8 L1703.6,1122.1 L1704.3,1122.1 L1704.7,1117.3 L1705.6,1117.3 L1706.2,1127.1 L1707.5,1127.1 L1708.4,1123.4 L1709.4,1123.4 L1710.2,1105.2 L1710.7,1105.2 L1711.0,1109.4 L1712.0,1109.4 L1712.7,1111.8 L1713.5,1111.8 L1714.0,1109.5 L1715.1,1109.5 L1715.8,1104.1 L1716.9,1104.1 L1717.7,1092.1 L1718.4,1092.1 L1718.8,1095.6 L1719.9,1095.6 L1720.5,1090.2 L1721.4,1090.2 L1722.0,1085.3 L1722.5,1085.3 L1722.9,1080.5 L1723.9,1080.5 L1724.6,1062.7 L1725.8,1062.7 L1726.6,1046.9 L1727.3,1046.9 L1727.8,1055.9 L1729.0,1055.9 L1729.8,1047.8 L1730.7,1047.8 L1731.3,1028.2 L1732.1,1028.2 L1732.5,1035.8 L1733.7,1035.8 L1734.5,1012.9 L1735.6,1012.9 L1736.4,1004.8 L1737.6,1004.8 L1738.5,990.7 L1739.8,990.7 L1740.6,988.0 L1741.1,988.0 L1741.5,982.6 L1742.2,982.6 L1741.5,986.1 L1740.6,991.2 L1738.5,1005.0 L1736.4,1017.4 L1734.5,1029.2 L1732.5,1038.6 L1731.3,1043.9 L1729.8,1050.5 L1727.8,1059.6 L1726.6,1065.7 L1724.6,1075.8 L1722.9,1084.2 L1722.0,1087.6 L1720.5,1092.3 L1718.8,1097.7 L1717.7,1101.4 L1715.8,1107.3 L1714.0,1112.1 L1712.7,1115.7 L1711.0,1120.2 L1710.2,1122.5 L1708.4,1125.8 L1706.2,1129.6 L1704.7,1132.1 L1703.6,1134.1 L1702.4,1136.1 L1700.8,1137.5 L1699.0,1139.2 L1697.6,1140.5 L1695.7,1142.3 L1694.2,1143.6 L1692.1,1145.6 L1691.0,1146.6 L1688.8,1148.3 L1686.7,1149.9 L1685.4,1150.9 L1684.1,1151.8 L1682.1,1153.2 L1680.2,1154.6 L1678.2,1155.8 L1677.2,1156.2 L1675.7,1156.7 L1674.8,1157.0 L1673.5,1157.5 L1671.9,1158.0 L1670.6,1158.5 L1669.5,1158.9 L1668.5,1159.2 L1666.4,1160.0 L1665.3,1160.4 L1664.3,1160.7 L1662.9,1161.2 L1660.8,1161.9 L1658.7,1162.6 L1657.5,1162.8 L1655.8,1163.1 L1653.9,1163.5 L1652.3,1163.8 L1650.6,1164.2 L1649.1,1164.5 L1648.2,1164.7 L1647.0,1164.9 L1645.1,1165.3 L1643.7,1165.6 L1642.5,1165.8 L1641.6,1166.0 L1640.2,1166.3 L1638.3,1166.4 L1637.0,1166.5 L1634.8,1166.7 L1633.8,1166.7 L1632.9,1166.8 L1631.1,1166.9 L1629.4,1167.1 L1627.3,1167.2 L1625.9,1167.3 L1624.1,1167.4 L1622.9,1167.5 L1621.9,1167.6 L1620.3,1167.7 L1619.0,1167.8 L1617.8,1167.9 L1616.5,1168.0 L1614.8,1168.1 L1613.5,1168.1 L1611.7,1168.1 L1610.1,1168.1 L1609.3,1168.1 L1607.5,1168.1 L1605.7,1168.0 L1603.7,1168.0 L1602.5,1168.0 L1600.4,1168.0 L1598.3,1168.1 L1597.3,1168.1 L1595.6,1168.2 L1594.0,1168.3 L1592.3,1168.4 L1591.2,1168.4 L1590.0,1168.5 L1588.5,1168.6 L1587.2,1168.7 L1586.0,1168.7 L1585.0,1168.8 L1583.3,1168.9 L1581.5,1168.9 L1580.5,1169.0 L1579.6,1169.0 L1578.4,1169.1 L1576.8,1169.2 L1575.9,1169.2 L1574.5,1169.3 L1572.5,1169.4 L1571.4,1169.5 L1569.9,1169.5 L1568.5,1169.6 L1567.0,1169.7 L1565.7,1169.7 L1564.2,1169.7 L1562.4,1169.7 L1561.6,1169.7 L1560.3,1169.7 L1559.2,1169.7 L1557.2,1169.7 L1555.2,1169.7 L1553.3,1169.7 L1551.5,1169.7 L1550.0,1169.7 L1548.1,1169.7 L1546.5,1169.7 L1545.2,1169.6 L1543.5,1169.5 L1542.4,1169.4 L1540.7,1169.3 L1539.5,1169.2 L1537.4,1169.0 L1535.8,1168.9 L1533.9,1168.7 L1532.6,1168.6 L1530.4,1168.3 L1529.3,1168.0 L1528.0,1167.5 L1526.7,1167.1 L1524.8,1166.4 L1522.8,1165.7 L1521.1,1165.1 L1519.2,1164.5 L1517.8,1163.9 L1516.1,1163.1 L1514.9,1162.5 L1514.0,1162.1 L1512.8,1161.6 L1511.2,1160.8 L1509.3,1160.0 L1507.3,1159.0 L1505.7,1158.1 L1503.8,1157.0 L1502.3,1156.1 L1501.2,1155.4 L1500.4,1155.0 L1498.2,1153.7 L1497.0,1153.0 L1495.7,1152.2 L1494.7,1151.5 L1493.5,1150.8 L1491.7,1149.6 L1489.6,1148.2 L1488.3,1147.4 L1486.1,1146.0 L1485.0,1145.2 L1483.1,1143.8 L1481.6,1142.4 L1480.2,1141.0 L1478.2,1139.2 L1477.1,1138.1 L1475.4,1136.5 L1473.5,1134.7 L1472.2,1133.5 L1470.6,1131.9 L1468.8,1129.9 L1467.2,1128.3 L1465.9,1126.9 L1464.1,1125.0 L1463.3,1124.1 L1462.4,1123.2 L1461.4,1122.1 L1460.4,1121.1 L1459.6,1120.1 L1457.4,1117.4 L1455.7,1115.3 L1454.9,1114.2 L1452.9,1111.7 L1451.0,1109.3 L1449.5,1107.5 L1447.3,1105.5 L1445.9,1104.3 L1444.4,1102.9 L1442.4,1101.1 L1440.8,1099.6 L1438.7,1097.4 L1436.8,1095.0 L1435.5,1093.4 L1433.8,1091.3 L1432.2,1089.4 L1431.3,1088.2 L1429.9,1086.5 L1428.8,1085.1 L1427.2,1083.1 L1426.1,1081.8 L1425.0,1080.4 L1422.9,1077.8 L1420.8,1075.2 L1419.1,1073.1 L1418.0,1071.7 L1416.7,1070.1 L1414.8,1068.0 L1413.0,1067.9 Z" fill="#000" stroke="#000" stroke-width="0.8"/><path d="M280.8,159.2 L282.5,163.3 L285.5,173.0 L290.3,157.5 L300.0,161.7 L308.3,155.3 L315.8,151.3 L319.2,147.0 L323.7,144.7 L329.2,181.7 L335.8,210.0 L338.3,233.3 L341.7,303.3 L343.8,340.0 L345.0,357.5 L349.0,400.0 L353.8,440.0 L357.5,468.0 L361.2,490.0 L362.5,515.0 L366.2,532.5 L371.2,552.5 L375.5,567.0 L380.0,580.0 L385.0,594.5 L390.0,607.5 L395.0,615.5 L400.0,622.5 L403.5,627.0 L407.5,630.0 L412.0,632.0 L416.2,632.5 L423.0,631.0 L430.0,627.5 L437.0,624.5 L445.0,621.2 L448.0,617.0 L450.0,611.0 L452.0,608.5 L454.2,607.5 L455.5,609.0 L457.5,615.5 L460.0,616.0 L465.0,612.5 L468.0,608.5 L471.2,602.5 L474.5,595.0 L477.5,588.5 L479.0,590.0 L479.7,600.0 L480.0,677.5 L480.4,600.0 L481.5,594.0 L483.8,597.5 L486.0,598.0 L487.3,600.0 L487.6,638.8 L487.9,601.0 L492.5,600.0 L500.0,596.0 L507.5,592.5 L511.0,586.0 L513.8,580.0 L517.0,570.0 L520.0,560.0 L522.5,547.0 L524.5,539.5 L525.5,538.5 L527.0,543.0 L528.3,560.0 L529.5,672.5 L530.7,620.0 L531.5,590.0 L533.0,578.0 L535.0,573.8 L538.0,574.0 L542.5,575.0 L544.5,569.0 L546.2,558.0 L548.0,556.0 L548.8,565.0 L549.5,672.5 L550.3,600.0 L551.2,570.0 L553.0,567.0 L556.2,565.0 L557.2,570.0 L557.6,593.8 L558.0,570.0 L560.0,566.0 L562.5,567.5 L570.0,564.0 L580.0,560.0 L590.0,556.0 L600.0,551.0 L612.2,546.2 L612.5,535.0 L612.8,548.8 L630.0,540.0 L640.8,535.6 L661.7,527.9 L682.5,523.1 L705.1,517.9 L705.4,509.6 L705.7,523.0 L724.2,515.8 L734.6,513.8 L760.3,511.7 L760.6,505.4 L760.9,513.0 L778.3,512.0 L800.0,513.3 L821.2,515.6 L857.2,523.4 L890.0,535.5 L922.8,548.0 L947.8,558.1 L977.5,573.8 L1008.8,590.2 L1040.0,608.1 L1076.0,629.2 L1087.5,637.5 L1102.5,648.8 L1109.2,650.0 L1109.5,636.0 L1109.8,658.8 L1115.0,647.5 L1120.0,645.0 L1121.8,645.0 L1122.0,635.0 L1122.2,651.0 L1128.0,647.5 L1128.3,656.0 L1135.0,641.2 L1155.0,656.2 L1155.2,636.0 L1155.5,657.0 L1182.5,677.5 L1183.8,679.1 L1186.1,687.5 L1188.4,712.0 L1190.7,714.2 L1198.3,718.8 L1208.1,725.0 L1208.3,704.3 L1208.5,725.5 L1213.6,730.3 L1221.2,732.6 L1225.0,733.0 L1233.5,742.5 L1241.1,742.5 L1245.2,745.6 L1245.4,728.0 L1245.6,751.7 L1250.3,751.0 L1259.5,757.8 L1262.3,763.5 L1262.5,744.8 L1262.7,766.0 L1265.0,765.5 L1272.2,769.2 L1280.0,775.0 L1289.7,782.8 L1297.5,789.6 L1305.0,794.5 L1313.0,800.3 L1320.0,806.0 L1328.5,813.9 L1335.0,821.0 L1342.2,829.4 L1350.0,841.0 L1352.0,868.6 L1353.6,936.7 L1356.5,995.0 L1358.8,1010.0 L1361.2,1024.0 L1365.0,1030.0 L1368.0,1033.0 L1371.2,1033.5 L1374.0,1029.0 L1377.5,1021.5 L1381.2,1011.5 L1383.5,995.0 L1385.0,975.0 L1388.0,946.5 L1391.2,975.0 L1393.8,1006.5 L1397.5,1009.5 L1402.5,1026.5 L1406.2,1039.0 L1410.0,1059.0 L1413.9,1066.9 M1413.9,1066.9 L1415.0,1067.0 L1427.5,1082.5 L1439.6,1097.5 L1450.0,1107.0 L1460.0,1119.7 L1471.8,1132.1 L1483.6,1143.3 L1495.4,1151.0 L1507.2,1158.0 L1519.0,1163.4 L1530.8,1167.5 L1545.8,1168.7 L1566.7,1168.7 L1600.0,1167.0 L1615.0,1167.1 L1640.0,1165.3 L1659.5,1161.4 L1678.9,1154.6 L1690.0,1146.5 L1702.5,1135.0 L1710.0,1122.0 L1716.2,1105.0 L1722.5,1085.0 L1726.2,1066.3 L1728.8,1053.8 L1733.8,1032.5 L1737.5,1010.0 L1741.2,986.3 L1742.5,979.0 M1742.5,979.0 L1746.7,946.7 L1751.1,908.9 L1754.4,882.2 L1758.0,845.6 L1762.0,810.0 L1768.5,765.0 L1771.7,724.3 L1774.6,694.5 L1778.5,630.0 L1782.2,579.2 L1786.2,531.7 L1790.1,492.0 L1797.9,339.6 L1804.3,259.7 L1807.5,221.4 L1811.2,171.5 L1813.2,220.0 L1817.1,163.9 L1818.9,152.2 L1821.9,131.9 L1824.4,122.2 L1826.7,114.4 L1829.0,110.0 L1835.0,100.0 M507.8,591.0 L508.3,584.0 L508.8,591.0 M1395.9,1008.6 L1396.4,957.0 L1396.9,1008.6 M1449.5,1122.0 L1450.0,1018.0 L1450.5,1122.0 M1584.6,1167.8 L1585.1,1073.0 L1585.6,1167.8 M1608.9,1175.0 L1609.4,1076.0 L1609.9,1175.0 M1616.8,1166.9 L1617.3,1090.0 L1617.8,1166.9 M1719.0,1094.6 L1719.5,1044.0 L1720.0,1094.6 M1537.9,1168.1 L1538.4,1146.0 L1538.9,1168.1 M1751.5,901.6 L1752.0,869.0 L1752.5,901.6" stroke="#000" stroke-width="2.4"/></g><rect x="280.5" y="112.5" width="1579.0" height="1065.0" fill="none" stroke="#000" stroke-width="3.33" stroke-linejoin="miter"/><line x1="302.5" y1="1177.5" x2="302.5" y2="1192.9" stroke="#000" stroke-width="3.33"/><line x1="487.1" y1="1177.5" x2="487.1" y2="1192.9" stroke="#000" stroke-width="3.33"/><line x1="671.7" y1="1177.5" x2="671.7" y2="1192.9" stroke="#000" stroke-width="3.33"/><line x1="856.3" y1="1177.5" x2="856.3" y2="1192.9" stroke="#000" stroke-width="3.33"/><line x1="1040.9" y1="1177.5" x2="1040.9" y2="1192.9" stroke="#000" stroke-width="3.33"/><line x1="1225.6" y1="1177.5" x2="1225.6" y2="1192.9" stroke="#000" stroke-width="3.33"/><line x1="1410.2" y1="1177.5" x2="1410.2" y2="1192.9" stroke="#000" stroke-width="3.33"/><line x1="1594.8" y1="1177.5" x2="1594.8" y2="1192.9" stroke="#000" stroke-width="3.33"/><line x1="1779.4" y1="1177.5" x2="1779.4" y2="1192.9" stroke="#000" stroke-width="3.33"/><line x1="265.1" y1="630.5" x2="280.5" y2="630.5" stroke="#000" stroke-width="3.33"/><line x1="272.2" y1="1050.5" x2="280.5" y2="1050.5" stroke="#000" stroke-width="2.5"/><line x1="272.2" y1="940.0" x2="280.5" y2="940.0" stroke="#000" stroke-width="2.5"/><line x1="272.2" y1="846.6" x2="280.5" y2="846.6" stroke="#000" stroke-width="2.5"/><line x1="272.2" y1="765.7" x2="280.5" y2="765.7" stroke="#000" stroke-width="2.5"/><line x1="272.2" y1="694.3" x2="280.5" y2="694.3" stroke="#000" stroke-width="2.5"/><line x1="272.2" y1="210.5" x2="280.5" y2="210.5" stroke="#000" stroke-width="2.5"/><text x="369" y="88" font-family="Liberation Sans, sans-serif" font-size="53" textLength="1400" lengthAdjust="spacingAndGlyphs">Peak field sums for AU000S_20251201_095225_163120</text><text x="109.5" y="226" font-family="Liberation Sans, sans-serif" font-size="44" textLength="25" lengthAdjust="spacingAndGlyphs">2</text><path d="M150.3,202.1 L170.6,222.7 M170.6,202.1 L150.3,222.7" stroke="#000" stroke-width="3.3" fill="none"/><text x="187" y="226" font-family="Liberation Sans, sans-serif" font-size="44" textLength="53" lengthAdjust="spacingAndGlyphs">10</text><text x="239" y="210" font-family="Liberation Sans, sans-serif" font-size="31" textLength="18" lengthAdjust="spacingAndGlyphs">8</text><text x="179" y="646" font-family="Liberation Sans, sans-serif" font-size="44" textLength="53" lengthAdjust="spacingAndGlyphs">10</text><text x="231" y="630" font-family="Liberation Sans, sans-serif" font-size="31" textLength="18" lengthAdjust="spacingAndGlyphs">8</text><text x="109.5" y="955" font-family="Liberation Sans, sans-serif" font-size="44" textLength="25" lengthAdjust="spacingAndGlyphs">6</text><path d="M150.3,931.1 L170.6,951.7 M170.6,931.1 L150.3,951.7" stroke="#000" stroke-width="3.3" fill="none"/><text x="187" y="955" font-family="Liberation Sans, sans-serif" font-size="44" textLength="53" lengthAdjust="spacingAndGlyphs">10</text><text x="239" y="939" font-family="Liberation Sans, sans-serif" font-size="31" textLength="18" lengthAdjust="spacingAndGlyphs">7</text><text transform="translate(300.5,1270) rotate(-30)" text-anchor="middle" dominant-baseline="middle" font-family="Liberation Sans, sans-serif" font-size="44" textLength="188" lengthAdjust="spacingAndGlyphs">12-01 10</text><text transform="translate(485.1,1270) rotate(-30)" text-anchor="middle" dominant-baseline="middle" font-family="Liberation Sans, sans-serif" font-size="44" textLength="188" lengthAdjust="spacingAndGlyphs">12-01 11</text><text transform="translate(669.7,1270) rotate(-30)" text-anchor="middle" dominant-baseline="middle" font-family="Liberation Sans, sans-serif" font-size="44" textLength="188" lengthAdjust="spacingAndGlyphs">12-01 12</text><text transform="translate(854.3,1270) rotate(-30)" text-anchor="middle" dominant-baseline="middle" font-family="Liberation Sans, sans-serif" font-size="44" textLength="188" lengthAdjust="spacingAndGlyphs">12-01 13</text><text transform="translate(1038.9,1270) rotate(-30)" text-anchor="middle" dominant-baseline="middle" font-family="Liberation Sans, sans-serif" font-size="44" textLength="188" lengthAdjust="spacingAndGlyphs">12-01 14</text><text transform="translate(1223.6,1270) rotate(-30)" text-anchor="middle" dominant-baseline="middle" font-family="Liberation Sans, sans-serif" font-size="44" textLength="188" lengthAdjust="spacingAndGlyphs">12-01 15</text><text transform="translate(1408.2,1270) rotate(-30)" text-anchor="middle" dominant-baseline="middle" font-family="Liberation Sans, sans-serif" font-size="44" textLength="188" lengthAdjust="spacingAndGlyphs">12-01 16</text><text transform="translate(1592.8,1270) rotate(-30)" text-anchor="middle" dominant-baseline="middle" font-family="Liberation Sans, sans-serif" font-size="44" textLength="188" lengthAdjust="spacingAndGlyphs">12-01 17</text><text transform="translate(1777.4,1270) rotate(-30)" text-anchor="middle" dominant-baseline="middle" font-family="Liberation Sans, sans-serif" font-size="44" textLength="188" lengthAdjust="spacingAndGlyphs">12-01 18</text><text x="1068" y="1387" text-anchor="middle" font-family="Liberation Sans, sans-serif" font-size="44" textLength="102" lengthAdjust="spacingAndGlyphs">Time</text><text transform="translate(82,645.5) rotate(-90)" text-anchor="middle" font-family="Liberation Sans, sans-serif" font-size="44" textLength="88" lengthAdjust="spacingAndGlyphs">ADU</text><rect x="300.1" y="1017.8" width="320.3" height="139" rx="7" ry="7" fill="#ffffff" fill-opacity="0.8" stroke="#d4d4d4" stroke-width="3.33"/><line x1="316" y1="1053.9" x2="401" y2="1053.9" stroke="#ff0000" stroke-width="2.4"/><line x1="316" y1="1115.9" x2="401" y2="1115.9" stroke="#000" stroke-width="2.4"/><text x="433" y="1069.3" font-family="Liberation Sans, sans-serif" font-size="44" textLength="97" lengthAdjust="spacingAndGlyphs">Peak</text><text x="434.5" y="1131.3" font-family="Liberation Sans, sans-serif" font-size="44" textLength="169.5" lengthAdjust="spacingAndGlyphs">Average</text></svg></body></html>
